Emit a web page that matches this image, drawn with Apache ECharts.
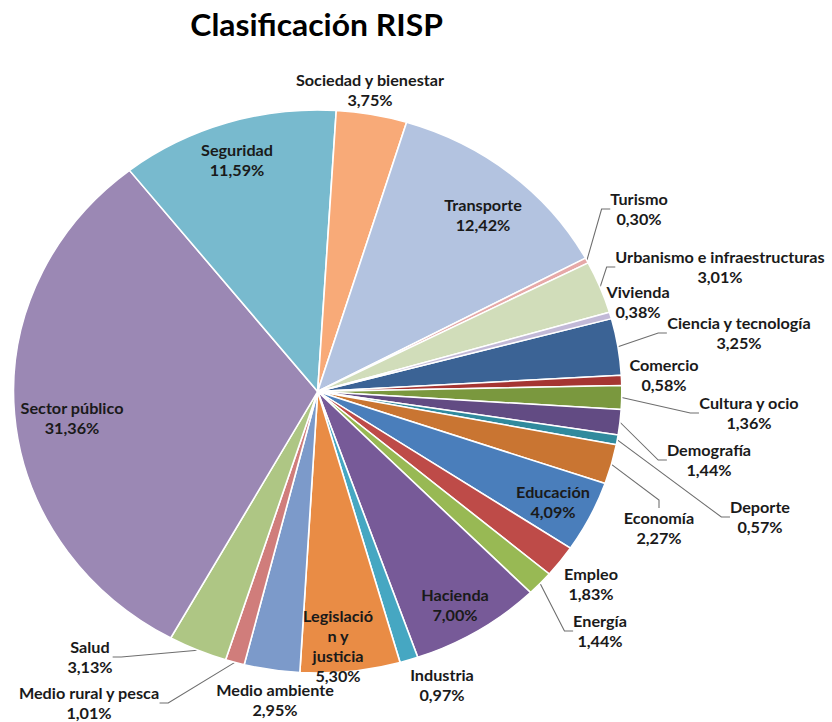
<!DOCTYPE html>
<html>
<head>
<meta charset="utf-8">
<script src="https://cdn.jsdelivr.net/npm/echarts@6/dist/echarts.min.js"></script>
<style>
  html, body { margin: 0; padding: 0; background: #fff; overflow: hidden; }
  /* the source image is stretched horizontally, so the whole chart is too */
  #main { width: 770px; height: 722px; transform: scaleX(1.0805); transform-origin: 0 0; }
</style>
</head>
<body>
<div id="main"></div>
<script>
const STRETCH = 1.0805;

const categories = [
  'Ciencia y tecnología', 'Comercio', 'Cultura y ocio', 'Demografía', 'Deporte',
  'Economía', 'Educación', 'Empleo', 'Energía', 'Hacienda', 'Industria',
  'Legislación y justicia', 'Medio ambiente', 'Medio rural y pesca', 'Salud',
  'Sector público', 'Seguridad', 'Sociedad y bienestar', 'Transporte', 'Turismo',
  'Urbanismo e infraestructuras', 'Vivienda'
];
const values = [
  3.25, 0.58, 1.36, 1.44, 0.57,
  2.27, 4.09, 1.83, 1.44, 7.00, 0.97,
  5.30, 2.95, 1.01, 3.13,
  31.36, 11.59, 3.75, 12.42, 0.30,
  3.01, 0.38
];
const colors = [
  '#3b6395', '#a53532', '#7a983e', '#624b83', '#308a9d',
  '#c97532', '#4a7ebb', '#be4b48', '#98b954', '#775a98', '#46a7c2',
  '#e98c45', '#7c9aca', '#d07d7b', '#aec684',
  '#9b88b4', '#78bace', '#f8aa78', '#b3c3e0', '#e6a9a8',
  '#d1ddba', '#c2b9d7'
];

// label placement: inside the slice, outside with a leader line, or outside plain
const insideLabels = ['Transporte', 'Seguridad', 'Sector público', 'Educación', 'Hacienda', 'Legislación y justicia'];
const leaderLabels = ['Turismo', 'Urbanismo e infraestructuras', 'Ciencia y tecnología', 'Cultura y ocio',
  'Demografía', 'Deporte', 'Economía', 'Energía', 'Medio rural y pesca', 'Salud'];
const wrapped = { 'Legislación y justicia': 'Legislació\nn y\njusticia' };

// label block centres, in page pixels
const labelPos = {
  'Sociedad y bienestar': [370, 90], 'Transporte': [483, 215], 'Turismo': [639, 209],
  'Urbanismo e infraestructuras': [720, 267], 'Vivienda': [638, 302], 'Ciencia y tecnología': [739, 333],
  'Comercio': [664, 375], 'Cultura y ocio': [749, 413], 'Demografía': [709, 460],
  'Deporte': [760, 517], 'Economía': [659, 528], 'Educación': [553, 502],
  'Empleo': [591, 584], 'Energía': [600, 631], 'Hacienda': [455, 605],
  'Industria': [442, 685], 'Legislación y justicia': [338, 646], 'Medio ambiente': [275, 700],
  'Medio rural y pesca': [89, 703], 'Salud': [90, 657], 'Sector público': [72, 418],
  'Seguridad': [237, 160]
};

const pct = v => v.toFixed(2).replace('.', ',') + '%';

const chart = echarts.init(document.getElementById('main'), null, { renderer: 'svg' });

chart.setOption({
  backgroundColor: '#fff',
  animation: false,
  title: {
    text: 'Clasificación RISP',
    left: 288,
    top: 5,
    textAlign: 'center',
    textStyle: { fontFamily: 'Lato', fontWeight: 'bold', fontSize: 29.5, color: '#000' }
  },
  series: [
    {
      type: 'pie',
      center: [294, 391.5],
      radius: 281.5,
      startAngle: 15,
      clockwise: true,
      avoidLabelOverlap: false,
      itemStyle: { borderColor: '#fff', borderWidth: 1.5 },
      label: {
        show: true,
        color: '#1a1a1a',
        fontFamily: 'Lato',
        fontWeight: 'bold',
        fontSize: 15,
        lineHeight: 20,
        align: 'center',
        formatter: p => (wrapped[p.name] || p.name) + '\n' + pct(p.value)
      },
      labelLine: { show: false, length: 10, length2: 8, lineStyle: { color: '#6e6e6e', width: 1 } },
      labelLayout: params => {
        const pos = labelPos[categories[params.dataIndex]];
        return {
          x: pos[0] / STRETCH,
          y: pos[1],
          align: 'center',
          verticalAlign: 'middle'
        };
      },
      data: categories.map((name, i) => ({
        name,
        value: values[i],
        itemStyle: { color: colors[i] },
        label: { position: insideLabels.includes(name) ? 'inside' : 'outside' },
        labelLine: { show: leaderLabels.includes(name) }
      }))
    }
  ]
});
</script>
</body>
</html>
